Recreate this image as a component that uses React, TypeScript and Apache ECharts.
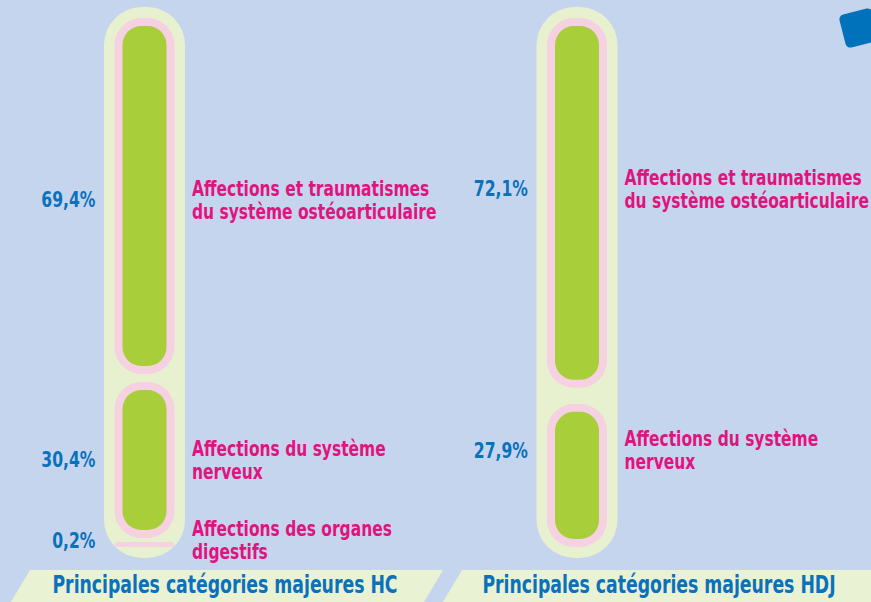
import React, { useEffect, useRef } from 'react';
import * as echarts from 'echarts';

const categories = ['Principales catégories majeures HC', 'Principales catégories majeures HDJ'];
const hcValues = [69.4, 30.4, 0.2];
const hcLabels = [
  'Affections et traumatismes\ndu système ostéoarticulaire',
  'Affections du système\nnerveux',
  'Affections des organes\ndigestifs',
];
const hdjValues = [72.1, 27.9];
const hdjLabels = [
  'Affections et traumatismes\ndu système ostéoarticulaire',
  'Affections du système\nnerveux',
];

const BG = '#C6D5EE';
const OUTER = '#E7F1CF';
const PINK = '#F5D1E1';
const GREEN = '#A8CE3A';
const MAGENTA = '#E0147E';
const BLUE = '#0A71BA';
const BANNER = '#E9F2D3';
const FONT = "'Liberation Sans Narrow', 'DejaVu Sans Condensed', Arial, sans-serif";

const GAPS = [8, 16];
const SHIFTS = [[4, 0, -4], [-14, -25]];

const groups = [hcValues, hdjValues];
const labelSets = [hcLabels, hdjLabels];

const fmt = (v: number) => v.toFixed(1).replace('.', ',') + '%';

const segData: any[] = [];
groups.forEach((vals, c) => {
  let acc = 0;
  vals.forEach((v, i) => {
    segData.push({ value: [c, acc, acc + v, i, v], name: labelSets[c][i] });
    acc += v;
  });
});

export default function App() {
  const ref = useRef<HTMLDivElement>(null);
  useEffect(() => {
    document.body.style.margin = '0';
    const chart = echarts.init(ref.current!, null, { renderer: 'svg' });
    const option: any = {
      animation: false,
      backgroundColor: BG,
      grid: { left: 144.5, right: 294, top: 18, height: 513 },
      xAxis: { type: 'category', data: categories, boundaryGap: false, show: false },
      yAxis: { type: 'value', min: 0, max: 100, inverse: true, show: false },
      series: [
        {
          type: 'custom',
          silent: true,
          data: categories.map((_, c) => [c, 0, 100]),
          renderItem: (params: any, api: any) => {
            const c = api.value(0);
            const [x, y0] = api.coord([c, 0]);
            const [, y1raw] = api.coord([c, 100]);
            const y1 = y1raw + GAPS[c] * (groups[c].length - 1);
            return {
              type: 'rect',
              shape: { x: x - 40.5, y: y0 - 11, width: 81, height: y1 - y0 + 22, r: 38 },
              style: { fill: OUTER },
            };
          },
        },
        {
          type: 'custom',
          silent: true,
          data: segData,
          renderItem: (params: any, api: any) => {
            const c = api.value(0);
            const s = api.value(1);
            const e = api.value(2);
            const i = api.value(3);
            const v = api.value(4);
            const off = GAPS[c] * i;
            const [x, ys] = api.coord([c, s]);
            const [, ye] = api.coord([c, e]);
            const y1 = ye + off;
            const h = Math.max(y1 - (ys + off), 5);
            const y0 = y1 - h;
            const children: any[] = [
              {
                type: 'rect',
                shape: { x: x - 30, y: y0, width: 60, height: h, r: Math.min(27, h / 2) },
                style: { fill: PINK },
              },
            ];
            if (h > 30) {
              children.push({
                type: 'rect',
                shape: { x: x - 22, y: y0 + 8, width: 44, height: h - 16, r: 19 },
                style: { fill: GREEN },
              });
            }
            const cy = (y0 + y1) / 2 + SHIFTS[c][i];
            children.push({
              type: 'text',
              x: x - 49,
              y: cy,
              scaleX: 0.79,
              style: {
                text: fmt(v),
                fill: BLUE,
                fontFamily: FONT,
                fontWeight: 'bold',
                fontSize: 22,
                align: 'right',
                textAlign: 'right',
                verticalAlign: 'middle',
                textVerticalAlign: 'middle',
              },
            });
            children.push({
              type: 'text',
              x: x + 47.5,
              y: cy,
              scaleX: 0.82,
              style: {
                text: labelSets[c][i],
                fill: MAGENTA,
                fontFamily: FONT,
                fontWeight: 'bold',
                fontSize: 21,
                lineHeight: 23,
                align: 'left',
                textAlign: 'left',
                verticalAlign: 'middle',
                textVerticalAlign: 'middle',
              },
            });
            return { type: 'group', children };
          },
        },
      ],
      graphic: [
        {
          type: 'polygon',
          silent: true,
          shape: { points: [[30, 570], [443, 570], [424, 602], [11, 602]] },
          style: { fill: BANNER },
        },
        {
          type: 'polygon',
          silent: true,
          shape: { points: [[462, 570], [880, 570], [880, 602], [443, 602]] },
          style: { fill: BANNER },
        },
        {
          type: 'text',
          silent: true,
          x: 225,
          y: 585,
          scaleX: 0.8,
          style: {
            text: categories[0],
            fill: BLUE,
            fontFamily: FONT,
            fontWeight: 'bold',
            fontSize: 24,
            textAlign: 'center',
            textVerticalAlign: 'middle',
          },
        },
        {
          type: 'text',
          silent: true,
          x: 659,
          y: 585,
          scaleX: 0.8,
          style: {
            text: categories[1],
            fill: BLUE,
            fontFamily: FONT,
            fontWeight: 'bold',
            fontSize: 24,
            textAlign: 'center',
            textVerticalAlign: 'middle',
          },
        },
        {
          type: 'rect',
          silent: true,
          x: 859,
          y: 28,
          rotation: 0.25,
          shape: { x: -17, y: -17, width: 34, height: 34, r: 5 },
          style: { fill: '#0072BC' },
        },
      ],
    };
    chart.setOption(option);
    return () => chart.dispose();
  }, []);
  return (
    <div
      ref={ref}
      style={{ position: 'absolute', left: 0, top: 0, width: 871, height: 602 }}
    />
  );
}
